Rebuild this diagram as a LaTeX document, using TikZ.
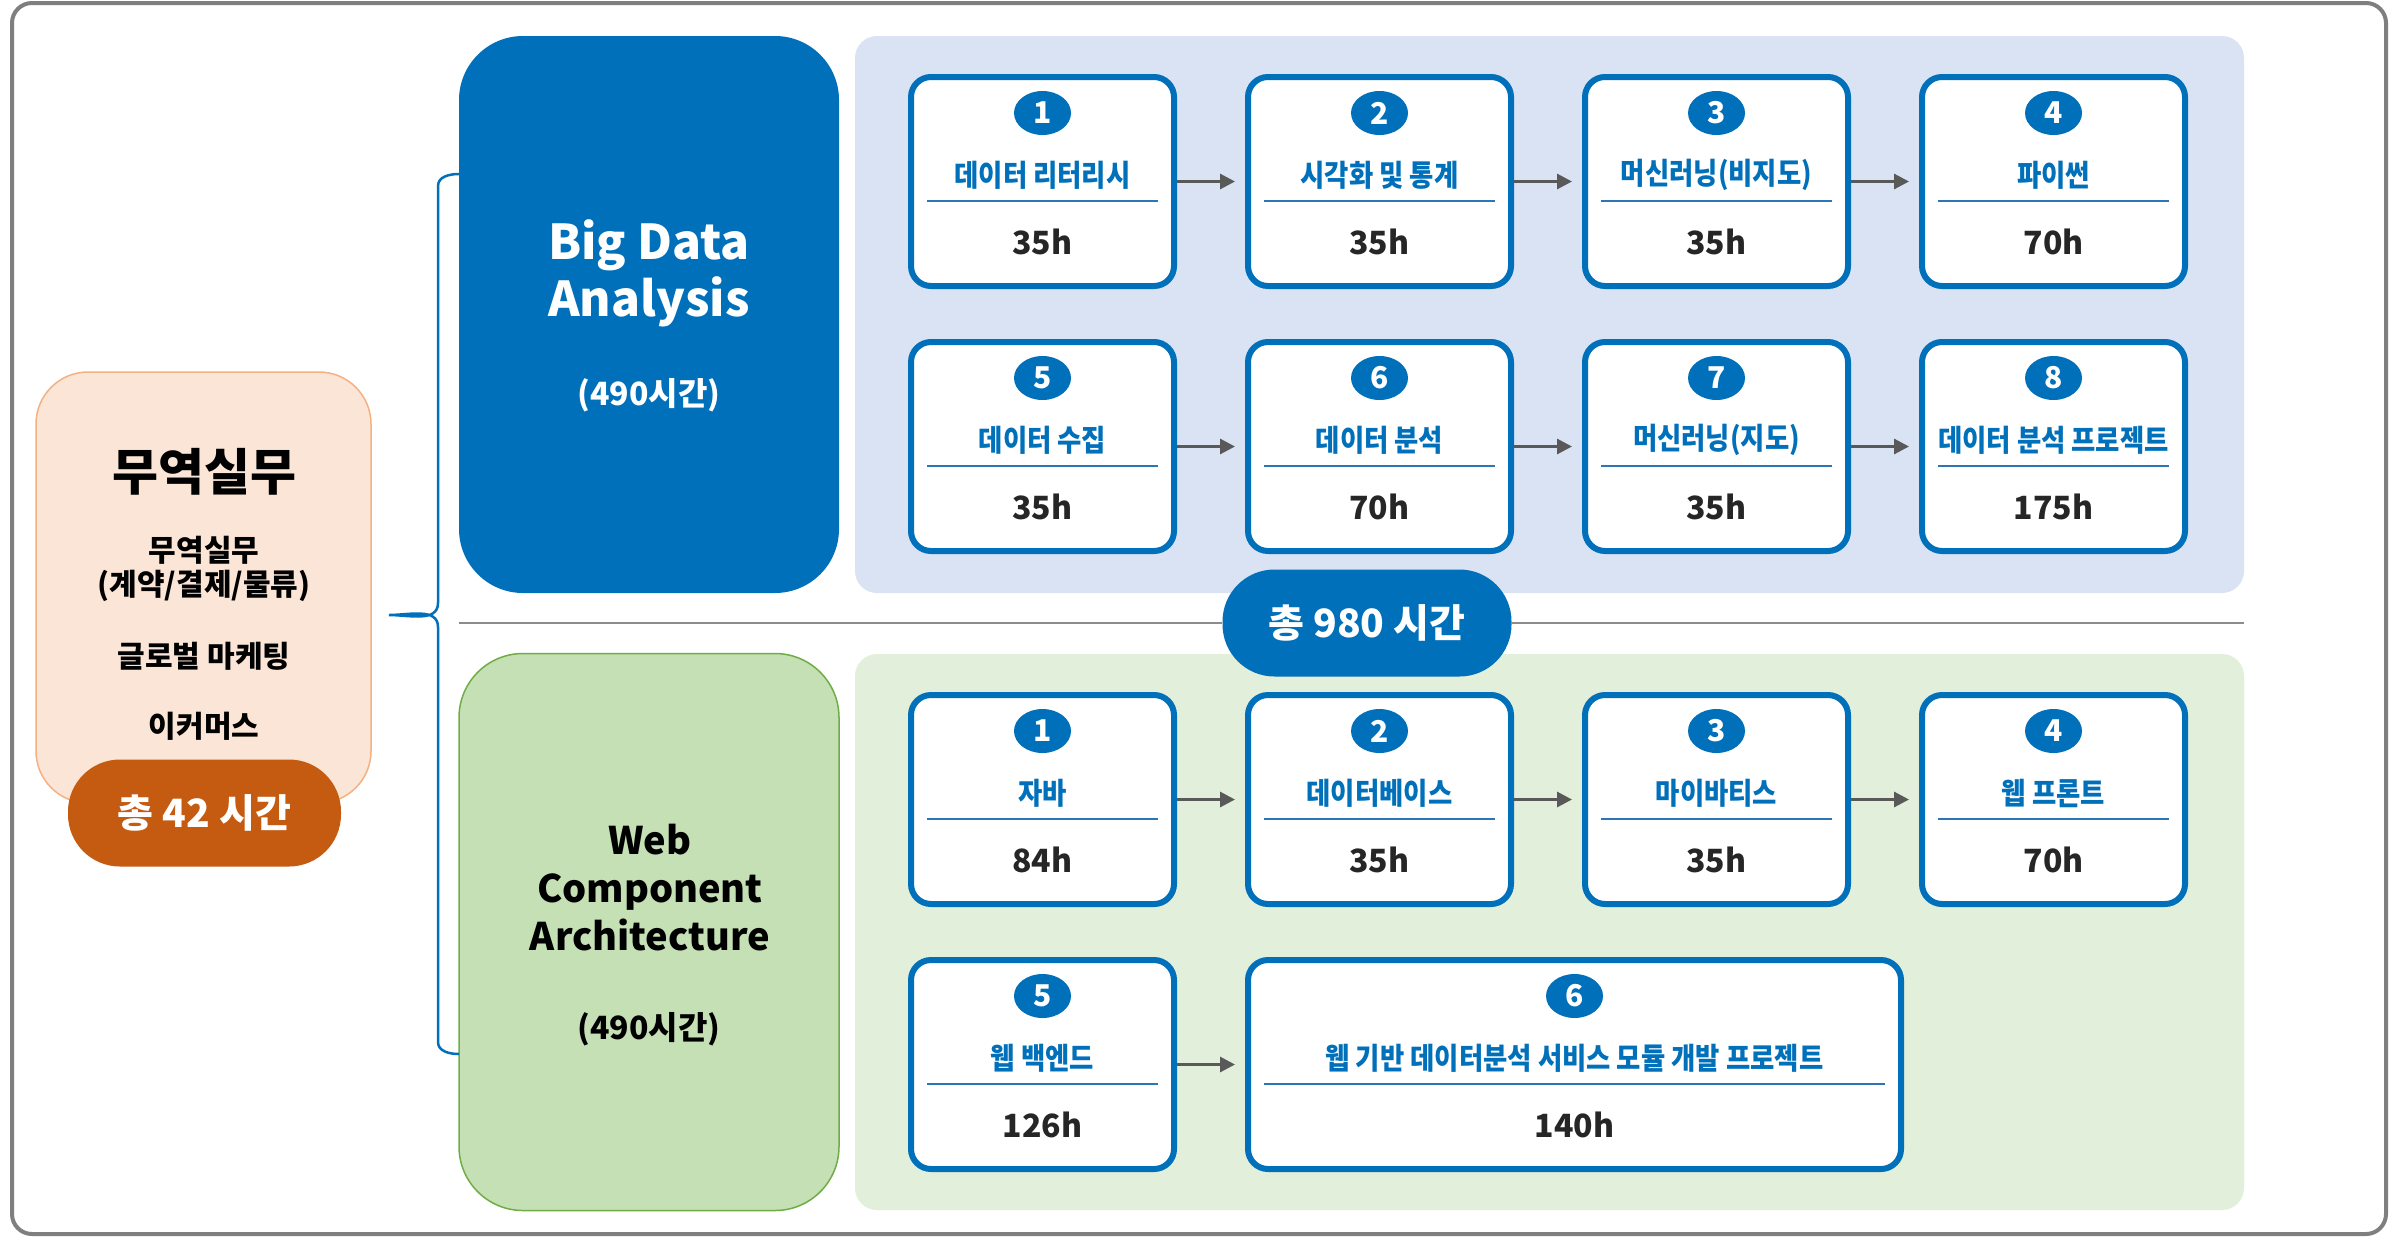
\documentclass[tikz,border=0pt]{standalone}
\usepackage{fontspec}
\setmainfont{Noto Sans CJK KR}
\newfontfamily\narrowfont{Noto Sans CJK KR}[FakeStretch=0.88]
\usetikzlibrary{positioning,calc,shapes.geometric,arrows.meta}

\definecolor{mainblue}{RGB}{0,112,186}
\definecolor{paleblue}{HTML}{DAE3F3}
\definecolor{palegreen}{HTML}{E2EFDA}
\definecolor{webgreen}{HTML}{C5E0B4}
\definecolor{webborder}{HTML}{70AD47}
\definecolor{peach}{HTML}{FBE5D6}
\definecolor{peachborder}{HTML}{F4B183}
\definecolor{brownpill}{HTML}{C55A11}
\definecolor{arrowgray}{HTML}{595959}
\definecolor{framegray}{HTML}{7F7F7F}
\definecolor{dividegray}{HTML}{8C8C8C}
\definecolor{lineblue}{HTML}{2E75B6}
\definecolor{hourgray}{HTML}{262626}

\tikzset{
  frame/.style={draw=framegray, fill=white, line width=2pt, rounded corners=10pt},
  bdpanel/.style={fill=paleblue, rounded corners=11pt, minimum width=694.5pt, minimum height=278.5pt, inner sep=0pt},
  webpanel/.style={fill=palegreen, rounded corners=11pt, minimum width=694.5pt, minimum height=278pt, inner sep=0pt},
  trackbox/.style={rounded corners=32pt, minimum width=190pt, minimum height=278.5pt, inner sep=0pt},
  tradebox/.style={fill=peach, draw=peachborder, line width=0.75pt, rounded corners=26pt, minimum width=167.5pt, minimum height=215.5pt, inner sep=0pt},
  tradeitem/.style={inner sep=0pt, font=\bfseries\fontsize{15}{18}\selectfont},
  pill/.style={rounded corners=26pt, minimum height=53.5pt, inner sep=0pt, text=white, font=\bfseries\fontsize{19.5}{22}\selectfont},
  stepbox/.style={draw=mainblue, line width=3pt, fill=white, rounded corners=10pt, minimum width=131.5pt, minimum height=104.5pt, inner sep=0pt, outer sep=0pt},
  numbadge/.style={ellipse, fill=mainblue, minimum width=28.5pt, minimum height=22pt, inner sep=0pt, text=white, font=\bfseries\fontsize{15}{15}\selectfont},
  steptitle/.style={text=mainblue, inner sep=0pt, font=\narrowfont\bfseries\fontsize{15}{18}\selectfont},
  stepline/.style={draw=lineblue, line width=1pt},
  stephours/.style={text=hourgray, inner sep=0pt, font=\bfseries\fontsize{16}{18}\selectfont},
  flow/.style={draw=arrowgray, line width=1.5pt, -{Triangle[length=7.5pt,width=7.5pt]}, shorten <=1.5pt, shorten >=6.5pt},
  brace/.style={draw=mainblue, line width=1.25pt},
  divider/.style={draw=dividegray, line width=1pt}
}

% one course step: name, placement, number, title, hours
\newcommand{\coursestep}[5]{%
  \node[stepbox, #2] (#1) {};
  \node[numbadge] (#1-num) at ($(#1.north)+(0,36)$) {#3};
  \node[steptitle] (#1-title) at ($(#1.north)+(0,98)$) {#4};
  \draw[stepline] ($(#1.north west)+(16,124)$) -- ($(#1.north east)+(-16,124)$);
  \node[stephours] (#1-hours) at ($(#1.north)+(0,165)$) {#5};
}

\begin{document}
\begin{tikzpicture}[x=0.5pt, y=-0.5pt]
  \useasboundingbox (0,0) rectangle (2402,1237);
  \draw[frame] (12,3) rectangle (2386,1234);

  % Trade practice
  \node[tradebox] (trade) at (203.5,587.5) {};
  \node[font=\bfseries\fontsize{25}{28}\selectfont] (tradetitle) at (204,472) {무역실무};
  \node[tradeitem] (trade1) at (204,550) {무역실무};
  \node[tradeitem] (trade2) at (204,586) {(계약/결제/물류)};
  \node[tradeitem] (trade3) at (204,656) {글로벌 마케팅};
  \node[tradeitem] (trade4) at (204,726) {이커머스};
  \node[pill, fill=brownpill, minimum width=136.5pt] (total42) at (204.5,813) {총 42 시간};

  % Panels
  \node[bdpanel] (bdpanel) at (1549.5,314.5) {};
  \node[webpanel] (webpanel) at (1549.5,932) {};

  % Big Data Analysis
  \node[trackbox, fill=mainblue] (bdabox) at (649,314.5) {};
  \node[anchor=base, text=white, font=\bfseries\fontsize{24}{28}\selectfont] (bdtitle1) at (649,259) {Big Data};
  \node[anchor=base, text=white, font=\bfseries\fontsize{24}{28}\selectfont] (bdtitle2) at (649,316) {Analysis};
  \node[anchor=base, text=white, font=\bfseries\fontsize{16}{18}\selectfont] (bdhours) at (649,405) {(490시간)};

  % Web Component Architecture
  \node[trackbox, fill=webgreen, draw=webborder, line width=0.75pt] (webbox) at (649,932) {};
  \node[anchor=base, font=\bfseries\fontsize{19}{22}\selectfont] (webtitle1) at (650,854) {Web};
  \node[anchor=base, font=\bfseries\fontsize{19}{22}\selectfont] (webtitle2) at (650,902) {Component};
  \node[anchor=base, font=\bfseries\fontsize{19}{22}\selectfont] (webtitle3) at (650,950) {Architecture};
  \node[anchor=base, font=\bfseries\fontsize{16}{18}\selectfont] (webhours) at (649,1039) {(490시간)};

  % Brace
  \draw[brace] (459,174) to[out=180,in=90] (438,186) -- (438,603)
    to[out=-90,in=0] (389,615) to[out=0,in=90] (438,627) -- (438,1042)
    to[out=-90,in=180] (459,1054);

  % Total
  \node[pill, fill=mainblue, minimum width=144.5pt] (total) at (1367,623) {총 980 시간};
  \draw[divider] (bdabox.west |- total.center) -- (total.west);
  \draw[divider] (total.east) -- (bdpanel.east |- total.center);

  % Big Data steps
  \coursestep{s1}{at={(1042.5,181.5)}}{1}{데이터 리터리시}{35h}
  \coursestep{s2}{right=37pt of s1}{2}{시각화 및 통계}{35h}
  \coursestep{s3}{right=37pt of s2}{3}{머신러닝(비지도)}{35h}
  \coursestep{s4}{right=37pt of s3}{4}{파이썬}{70h}
  \coursestep{s5}{below=28pt of s1}{5}{데이터 수집}{35h}
  \coursestep{s6}{right=37pt of s5}{6}{데이터 분석}{70h}
  \coursestep{s7}{right=37pt of s6}{7}{머신러닝(지도)}{35h}
  \coursestep{s8}{right=37pt of s7}{8}{데이터 분석 프로젝트}{175h}

  % Web steps
  \coursestep{w1}{at={(1042.5,799.5)}}{1}{자바}{84h}
  \coursestep{w2}{right=37pt of w1}{2}{데이터베이스}{35h}
  \coursestep{w3}{right=37pt of w2}{3}{마이바티스}{35h}
  \coursestep{w4}{right=37pt of w3}{4}{웹 프론트}{70h}
  \coursestep{w5}{below=28pt of w1}{5}{웹 백엔드}{126h}
  \coursestep{w6}{right=37pt of w5, minimum width=326.5pt}{6}{웹 기반 데이터분석 서비스 모듈 개발 프로젝트}{140h}

  % Connections
  \draw[flow] (s1) -- (s2);
  \draw[flow] (s2) -- (s3);
  \draw[flow] (s3) -- (s4);
  \draw[flow] (s5) -- (s6);
  \draw[flow] (s6) -- (s7);
  \draw[flow] (s7) -- (s8);
  \draw[flow] (w1) -- (w2);
  \draw[flow] (w2) -- (w3);
  \draw[flow] (w3) -- (w4);
  \draw[flow] (w5) -- (w6);
\end{tikzpicture}
\end{document}
